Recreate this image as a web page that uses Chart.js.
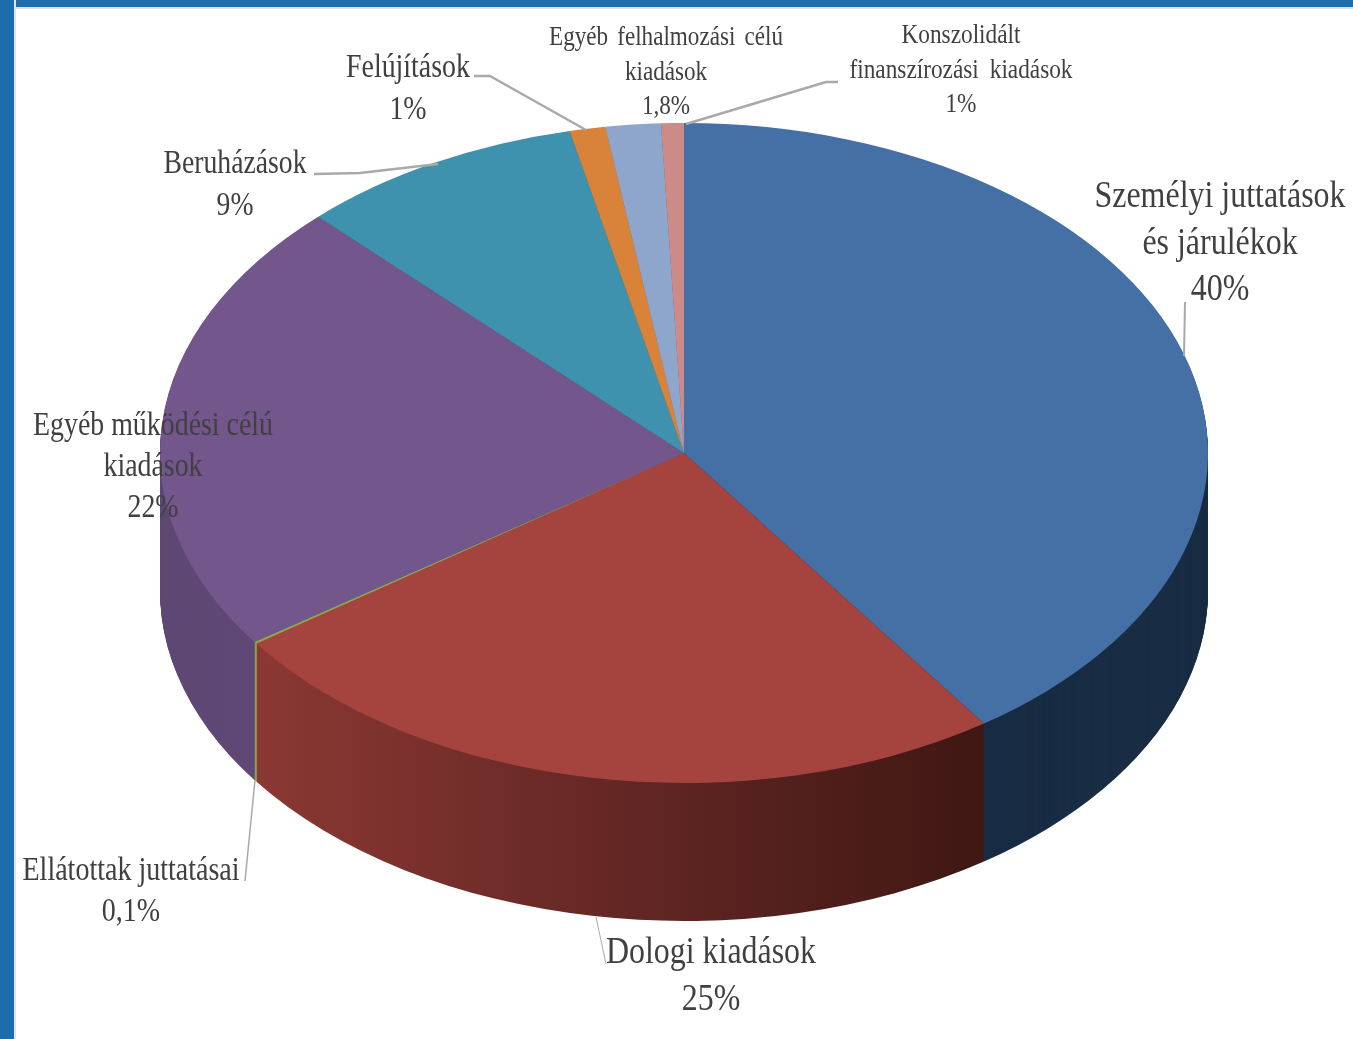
<!DOCTYPE html>
<html>
<head>
<meta charset="utf-8">
<title>Kiadások</title>
<script src="https://cdn.jsdelivr.net/npm/chart.js@4/dist/chart.umd.min.js"></script>
<style>
    html, body { margin: 0; padding: 0; background: #fff; overflow: hidden; }
    body { width: 1353px; height: 1039px; position: relative; }
    #top { position: absolute; left: 0; top: 0; width: 1353px; height: 7px; background: #1c6dab; border-bottom: 2px solid #e3e3e3; }
    #left { position: absolute; left: 0; top: 0; width: 14px; height: 1039px; background: #1c6dab; border-right: 2px solid #e3e3e3; }
    #chart { position: absolute; left: 0; top: 0; }
</style>
</head>
<body>
<div id="top"></div>
<div id="left"></div>
<canvas id="chart" width="1353" height="1039"></canvas>
<script>
// Clockwise from 12 o'clock, as on the picture
const categories = [
    ['Személyi juttatások', 'és járulékok'],
    ['Dologi kiadások'],
    ['Ellátottak juttatásai'],
    ['Egyéb működési célú', 'kiadások'],
    ['Beruházások'],
    ['Felújítások'],
    ['Egyéb felhalmozási célú', 'kiadások'],
    ['Konszolidált', 'finanszírozási kiadások']
];
const percentLabels = ['40%', '25%', '0,1%', '22%', '9%', '1%', '1,8%', '1%'];
const values = [40.3, 24.9, 0.1, 22.4, 8.8, 1.1, 1.7, 0.7];

const topColors = ['#4570a6', '#a5433f', '#8fa84f', '#72568c', '#3f92ad', '#d9823a', '#8fa6cc', '#cc8a88'];
const sideColors = ['#182c44', null, '#8fa84f', '#5f4875', '#2a6377', '#91572a', '#5f6f88', '#885c5a'];

// Tilted pie: where the ellipse sits on the page
const tilt = { x: 684, y: 453, rx: 524, ry: 330, depth: 138, radius: 500 };

// Label placing: centre x, first baseline, line gap, font size, width of longest line
const labelBoxes = [
    { x: 1220, y: 207, gap: 46.5, size: 38, width: 251 },
    { x: 711, y: 963, gap: 47, size: 38, width: 210 },
    { x: 131, y: 880, gap: 41, size: 33, width: 217 },
    { x: 153, y: 435, gap: 41, size: 33, width: 240 },
    { x: 235, y: 173, gap: 42, size: 33, width: 143 },
    { x: 408, y: 77, gap: 42, size: 33, width: 124 },
    { x: 666, y: 45, gap: 34.5, size: 28, width: 234, word: 4 },
    { x: 961, y: 43, gap: 34.5, size: 27, width: 223, word: 6 }
];

const leaders = [
    { w: 2, pts: [[1185, 302], [1184, 356]] },
    { w: 1, pts: [[606, 964], [596, 917]] },
    { w: 1.5, pts: [[245, 881], [255, 780]] },
    { w: 2.5, pts: [[314, 174], [360, 173], [438, 164]] },
    { w: 2.5, pts: [[474, 76], [490, 76], [586, 130]] },
    { w: 2.5, pts: [[838, 82], [826, 82], [686, 124]] }
];

function applyTilt(ctx, meta, extraY) {
    const arc = meta.data[0];
    ctx.translate(tilt.x, tilt.y + extraY);
    ctx.scale(tilt.rx / tilt.radius, tilt.ry / tilt.radius);
    ctx.translate(-arc.x, -arc.y);
}

const tiltPlugin = {
    id: 'tilt',
    beforeDatasetsDraw(chart) {
        const ctx = chart.ctx;
        const meta = chart.getDatasetMeta(0);

        // the red wall gets darker to the right
        const toLocal = x => meta.data[0].x + (x - tilt.x) * tilt.radius / tilt.rx;
        const redSide = ctx.createLinearGradient(toLocal(256), 0, toLocal(984), 0);
        redSide.addColorStop(0, '#8b3833');
        redSide.addColorStop(0.5, '#632724');
        redSide.addColorStop(1, '#3f1713');

        for (let k = tilt.depth; k > 0; k--) {
            ctx.save();
            applyTilt(ctx, meta, k);
            meta.data.forEach((arc, i) => {
                const fill = arc.options.backgroundColor;
                arc.options.backgroundColor = sideColors[i] || redSide;
                arc.draw(ctx);
                arc.options.backgroundColor = fill;
            });
            ctx.restore();
        }

        ctx.save();
        applyTilt(ctx, meta, 0);
    },
    afterDatasetsDraw(chart) {
        chart.ctx.restore();
    }
};

const labelPlugin = {
    id: 'sliceLabels',
    afterDraw(chart) {
        const ctx = chart.ctx;

        ctx.strokeStyle = '#a9a9a9';
        ctx.lineJoin = 'round';
        leaders.forEach(l => {
            ctx.lineWidth = l.w;
            ctx.beginPath();
            l.pts.forEach((p, i) => i ? ctx.lineTo(p[0], p[1]) : ctx.moveTo(p[0], p[1]));
            ctx.stroke();
        });

        ctx.fillStyle = '#404040';
        ctx.textAlign = 'center';
        ctx.textBaseline = 'alphabetic';
        categories.forEach((lines, i) => {
            const box = labelBoxes[i];
            const all = lines.concat(percentLabels[i]);
            ctx.font = box.size + 'px "Liberation Serif"';
            ctx.wordSpacing = (box.word || 0) + 'px';
            const longest = Math.max(...all.map(t => ctx.measureText(t).width));
            all.forEach((text, n) => {
                ctx.save();
                ctx.translate(box.x, box.y + n * box.gap);
                ctx.scale(box.width / longest, 1);
                ctx.fillText(text, 0, 0);
                ctx.restore();
            });
        });
        ctx.wordSpacing = '0px';
    }
};

new Chart(document.getElementById('chart').getContext('2d'), {
    type: 'pie',
    data: {
        labels: categories.map(c => c.join(' ')),
        datasets: [{
            data: values,
            backgroundColor: topColors,
            borderWidth: 0,
            radius: tilt.radius
        }]
    },
    options: {
        responsive: false,
        devicePixelRatio: 1,
        animation: false,
        layout: { padding: 0 },
        plugins: { legend: { display: false }, tooltip: { enabled: false } }
    },
    plugins: [tiltPlugin, labelPlugin]
});
</script>
</body>
</html>
